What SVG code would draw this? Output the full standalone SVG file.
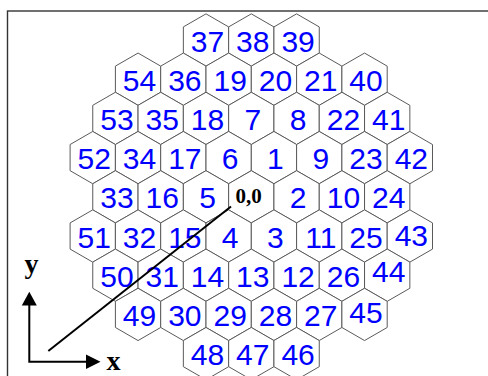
<svg xmlns="http://www.w3.org/2000/svg" xmlns:xlink="http://www.w3.org/1999/xlink" width="488" height="376" viewBox="0 0 488 376">
<style>
.h{fill:#fff;stroke:#5a5a5a;stroke-width:1}
.n{font-family:"Liberation Sans",Arial,sans-serif;font-size:30px;fill:#0000ff;text-anchor:middle}
.o{font-family:"Liberation Serif","Times New Roman",serif;font-weight:bold;font-size:21px;fill:#000;text-anchor:middle}
.ax{font-family:"Liberation Serif","Times New Roman",serif;font-weight:bold;font-size:28px;fill:#000;text-anchor:middle}
.ln{stroke:#000;stroke-width:2;fill:none}
</style>
<defs>
<polygon id="hex" class="h" points="0,-26.15 22.65,-13.08 22.65,13.08 0,26.15 -22.65,13.08 -22.65,-13.08"/>
</defs>
<rect x="0" y="0" width="488" height="376" fill="#fff"/>
<rect x="7.5" y="11" width="500" height="400" fill="none" stroke="#333" stroke-width="1.4"/>
<g id="nodes">
<g id="n37"><use xlink:href="#hex" x="206" y="40"/><text class="n" x="207.5" y="51.5">37</text></g>
<g id="n38"><use xlink:href="#hex" x="251.3" y="40"/><text class="n" x="252.8" y="51.5">38</text></g>
<g id="n39"><use xlink:href="#hex" x="296.6" y="40"/><text class="n" x="298.1" y="51.5">39</text></g>

<g id="n54"><use xlink:href="#hex" x="138.05" y="79.2"/><text class="n" x="139.55" y="90.7">54</text></g>
<g id="n36"><use xlink:href="#hex" x="183.35" y="79.2"/><text class="n" x="184.85" y="90.7">36</text></g>
<g id="n19"><use xlink:href="#hex" x="228.65" y="79.2"/><text class="n" x="230.15" y="90.7">19</text></g>
<g id="n20"><use xlink:href="#hex" x="273.95" y="79.2"/><text class="n" x="275.45" y="90.7">20</text></g>
<g id="n21"><use xlink:href="#hex" x="319.25" y="79.2"/><text class="n" x="320.75" y="90.7">21</text></g>
<g id="n40"><use xlink:href="#hex" x="364.55" y="79.2"/><text class="n" x="366.05" y="90.7">40</text></g>

<g id="n53"><use xlink:href="#hex" x="115.4" y="118.4"/><text class="n" x="116.9" y="129.9">53</text></g>
<g id="n35"><use xlink:href="#hex" x="160.7" y="118.4"/><text class="n" x="162.2" y="129.9">35</text></g>
<g id="n18"><use xlink:href="#hex" x="206" y="118.4"/><text class="n" x="207.5" y="129.9">18</text></g>
<g id="n7"><use xlink:href="#hex" x="251.3" y="118.4"/><text class="n" x="252.8" y="129.9">7</text></g>
<g id="n8"><use xlink:href="#hex" x="296.6" y="118.4"/><text class="n" x="298.1" y="129.9">8</text></g>
<g id="n22"><use xlink:href="#hex" x="341.9" y="118.4"/><text class="n" x="343.4" y="129.9">22</text></g>
<g id="n41"><use xlink:href="#hex" x="387.2" y="118.4"/><text class="n" x="388.7" y="129.9">41</text></g>

<g id="n52"><use xlink:href="#hex" x="92.75" y="157.6"/><text class="n" x="94.25" y="169.1">52</text></g>
<g id="n34"><use xlink:href="#hex" x="138.05" y="157.6"/><text class="n" x="139.55" y="169.1">34</text></g>
<g id="n17"><use xlink:href="#hex" x="183.35" y="157.6"/><text class="n" x="184.85" y="169.1">17</text></g>
<g id="n6"><use xlink:href="#hex" x="228.65" y="157.6"/><text class="n" x="230.15" y="169.1">6</text></g>
<g id="n1"><use xlink:href="#hex" x="273.95" y="157.6"/><text class="n" x="275.45" y="169.1">1</text></g>
<g id="n9"><use xlink:href="#hex" x="319.25" y="157.6"/><text class="n" x="320.75" y="169.1">9</text></g>
<g id="n23"><use xlink:href="#hex" x="364.55" y="157.6"/><text class="n" x="366.05" y="169.1">23</text></g>
<g id="n42"><use xlink:href="#hex" x="409.85" y="157.6"/><text class="n" x="411.35" y="169.1">42</text></g>

<g id="n33"><use xlink:href="#hex" x="115.4" y="196.8"/><text class="n" x="116.9" y="208.3">33</text></g>
<g id="n16"><use xlink:href="#hex" x="160.7" y="196.8"/><text class="n" x="162.2" y="208.3">16</text></g>
<g id="n5"><use xlink:href="#hex" x="206" y="196.8"/><text class="n" x="207.5" y="208.3">5</text></g>
<g id="n0"><use xlink:href="#hex" x="251.3" y="196.8"/><text class="o" x="248.5" y="203">0,0</text></g>
<g id="n2"><use xlink:href="#hex" x="296.6" y="196.8"/><text class="n" x="298.1" y="208.3">2</text></g>
<g id="n10"><use xlink:href="#hex" x="341.9" y="196.8"/><text class="n" x="343.4" y="208.3">10</text></g>
<g id="n24"><use xlink:href="#hex" x="387.2" y="196.8"/><text class="n" x="388.7" y="208.3">24</text></g>

<g id="n51"><use xlink:href="#hex" x="92.75" y="236"/><text class="n" x="94.25" y="247.5">51</text></g>
<g id="n32"><use xlink:href="#hex" x="138.05" y="236"/><text class="n" x="139.55" y="247.5">32</text></g>
<g id="n15"><use xlink:href="#hex" x="183.35" y="236"/><text class="n" x="184.85" y="247.5">15</text></g>
<g id="n4"><use xlink:href="#hex" x="228.65" y="236"/><text class="n" x="230.15" y="247.5">4</text></g>
<g id="n3"><use xlink:href="#hex" x="273.95" y="236"/><text class="n" x="275.45" y="247.5">3</text></g>
<g id="n11"><use xlink:href="#hex" x="319.25" y="236"/><text class="n" x="320.75" y="247.5">11</text></g>
<g id="n25"><use xlink:href="#hex" x="364.55" y="236"/><text class="n" x="366.05" y="247.5">25</text></g>
<g id="n43"><use xlink:href="#hex" x="409.85" y="236"/><text class="n" x="411.35" y="245.5">43</text></g>

<g id="n50"><use xlink:href="#hex" x="115.4" y="275.2"/><text class="n" x="116.9" y="286.7">50</text></g>
<g id="n31"><use xlink:href="#hex" x="160.7" y="275.2"/><text class="n" x="162.2" y="286.7">31</text></g>
<g id="n14"><use xlink:href="#hex" x="206" y="275.2"/><text class="n" x="207.5" y="286.7">14</text></g>
<g id="n13"><use xlink:href="#hex" x="251.3" y="275.2"/><text class="n" x="252.8" y="286.7">13</text></g>
<g id="n12"><use xlink:href="#hex" x="296.6" y="275.2"/><text class="n" x="298.1" y="286.7">12</text></g>
<g id="n26"><use xlink:href="#hex" x="341.9" y="275.2"/><text class="n" x="343.4" y="286.7">26</text></g>
<g id="n44"><use xlink:href="#hex" x="387.2" y="275.2"/><text class="n" x="388.7" y="281.7">44</text></g>

<g id="n49"><use xlink:href="#hex" x="138.05" y="314.4"/><text class="n" x="139.55" y="325.9">49</text></g>
<g id="n30"><use xlink:href="#hex" x="183.35" y="314.4"/><text class="n" x="184.85" y="325.9">30</text></g>
<g id="n29"><use xlink:href="#hex" x="228.65" y="314.4"/><text class="n" x="230.15" y="325.9">29</text></g>
<g id="n28"><use xlink:href="#hex" x="273.95" y="314.4"/><text class="n" x="275.45" y="325.9">28</text></g>
<g id="n27"><use xlink:href="#hex" x="319.25" y="314.4"/><text class="n" x="320.75" y="325.9">27</text></g>
<g id="n45"><use xlink:href="#hex" x="364.55" y="314.4"/><text class="n" x="366.05" y="322.9">45</text></g>

<g id="n48"><use xlink:href="#hex" x="206" y="353.6"/><text class="n" x="207.5" y="365.1">48</text></g>
<g id="n47"><use xlink:href="#hex" x="251.3" y="353.6"/><text class="n" x="252.8" y="365.1">47</text></g>
<g id="n46"><use xlink:href="#hex" x="296.6" y="353.6"/><text class="n" x="298.1" y="365.1">46</text></g>
</g>
<g id="connectors">
<line class="ln" x1="48.3" y1="351" x2="231" y2="206.5"/>
<polyline class="ln" points="29.3,305 29.3,361.7 87,361.7"/>
<path d="M29.3,291.7 L36.8,305.5 L21.8,305.5 z" fill="#000"/>
<path d="M100.5,361.7 L86,354.5 L86,369 z" fill="#000"/>
</g>
<g id="labels">
<text class="ax" x="31.5" y="273">y</text>
<text class="ax" x="113.5" y="369.5">x</text>
</g>
</svg>
